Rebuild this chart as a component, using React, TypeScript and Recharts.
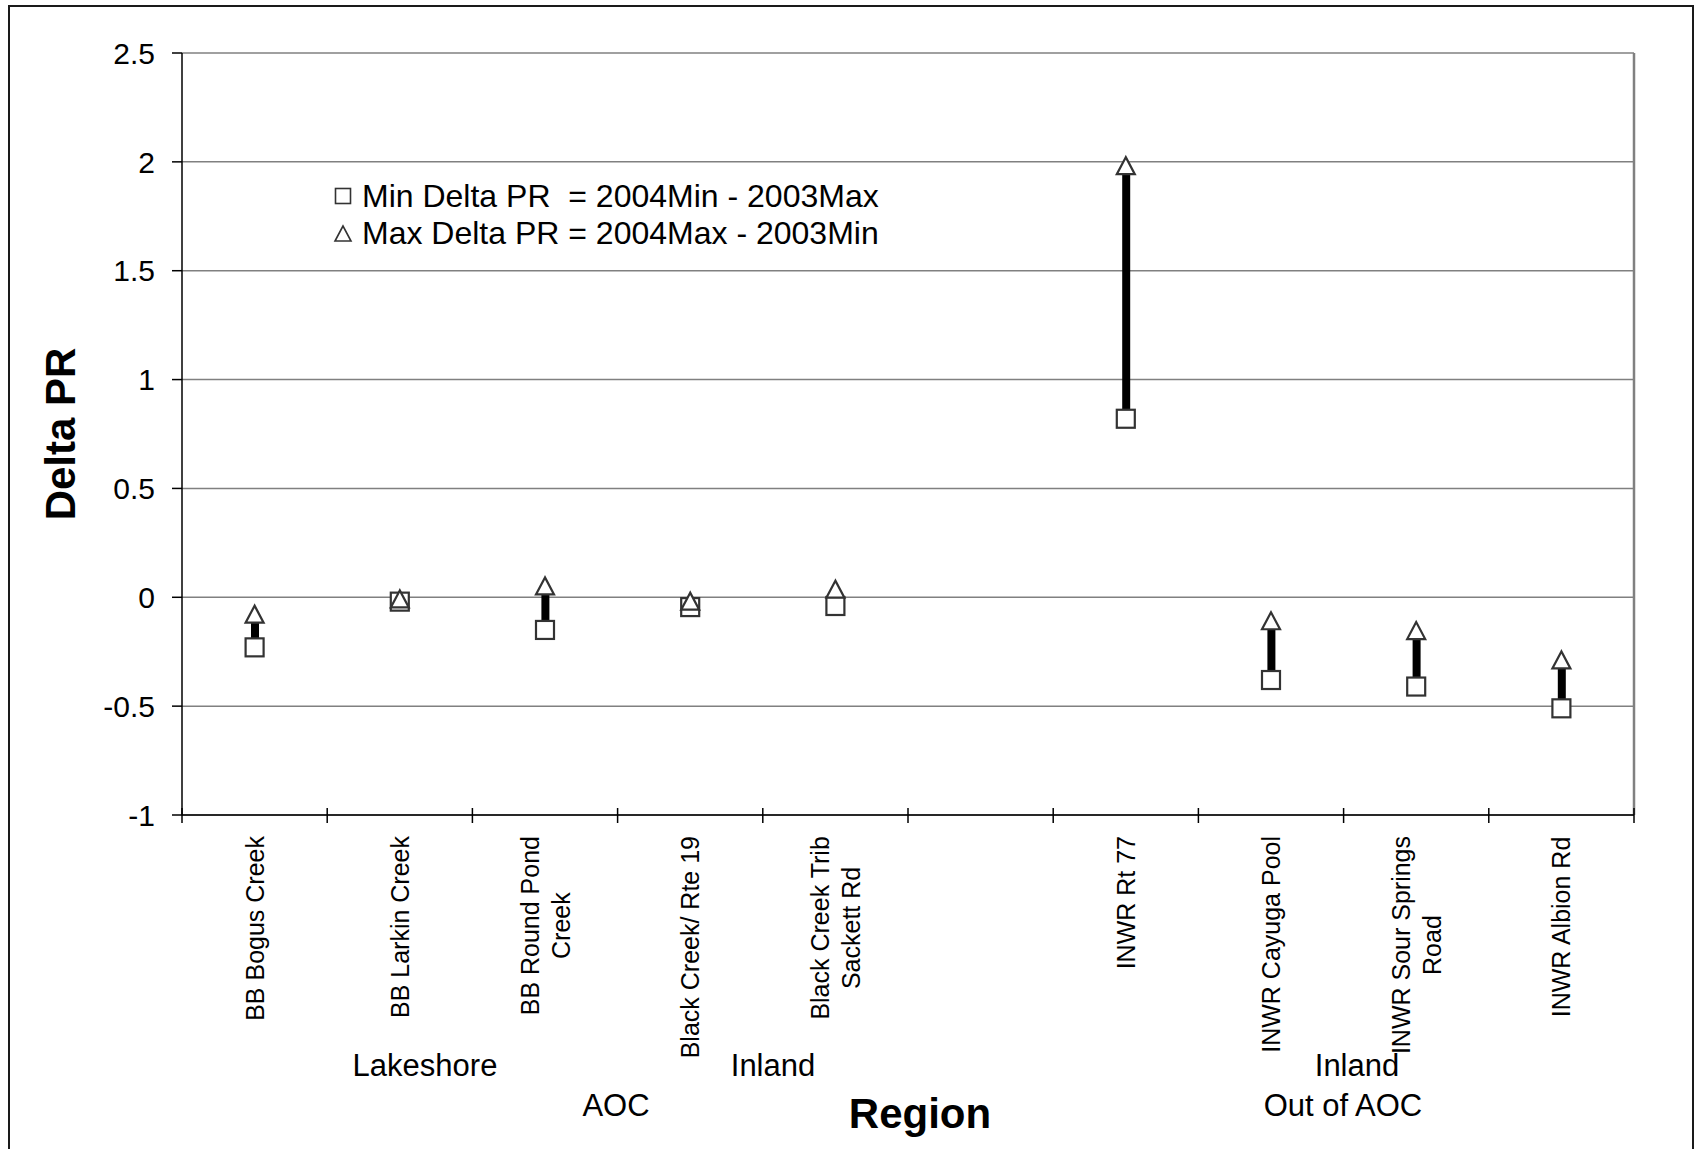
import { ComposedChart, Bar, Scatter, XAxis, YAxis, CartesianGrid, ReferenceLine } from "recharts";

// sampling sites along the x axis ("\n" = line break in the tick label)
const sites = [
  "BB Bogus Creek",
  "BB Larkin Creek",
  "BB Round Pond\nCreek",
  "Black Creek/ Rte 19",
  "Black Creek Trib\nSackett Rd",
  "",
  "INWR Rt 77",
  "INWR Cayuga Pool",
  "INWR Sour Springs\nRoad",
  "INWR Albion Rd",
];

// Min Delta PR = 2004Min - 2003Max
const minDeltaPR = [-0.23, -0.02, -0.15, -0.045, -0.04, null, 0.82, -0.38, -0.41, -0.51];
// Max Delta PR = 2004Max - 2003Min
const maxDeltaPR = [-0.08, -0.01, 0.05, -0.02, 0.035, null, 1.98, -0.11, -0.155, -0.29];

const yTicks = [-1, -0.5, 0, 0.5, 1, 1.5, 2, 2.5];

const legendItems = ["Min Delta PR  = 2004Min - 2003Max", "Max Delta PR = 2004Max - 2003Min"];

const groupLabels = [
  { text: "Lakeshore", x: 425, y: 1076 },
  { text: "Inland", x: 773, y: 1076 },
  { text: "Inland", x: 1357, y: 1076 },
  { text: "AOC", x: 616, y: 1116 },
  { text: "Out of AOC", x: 1343, y: 1116 },
];

const FONT = "'Liberation Sans', Arial, sans-serif";

const chartData = sites.map((site, i) => ({
  x: i + 0.5,
  site,
  min: minDeltaPR[i],
  max: maxDeltaPR[i],
  range: minDeltaPR[i] == null ? null : [minDeltaPR[i], maxDeltaPR[i]],
}));

const xTicks: number[] = [];
for (let i = 0; i <= sites.length; i++) {
  xTicks.push(i);
  if (i < sites.length) xTicks.push(i + 0.5);
}

let ctx: CanvasRenderingContext2D | null = null;
const measure = (s: string, font: string) => {
  if (!ctx) ctx = document.createElement("canvas").getContext("2d");
  if (!ctx) return s.length * 12;
  ctx.font = font;
  return ctx.measureText(s).width;
};

const XTick = (props: any) => {
  const { x, y, payload } = props;
  const v = payload.value;
  if (Number.isInteger(v)) {
    return <line x1={x} x2={x} y1={y - 7} y2={y + 8} stroke="#000" strokeWidth={1.5} />;
  }
  const label = sites[Math.floor(v)];
  if (!label) return null;
  const lines = label.split("\n");
  const maxW = Math.max(...lines.map((l) => measure(l, `25px ${FONT}`)));
  const cy = y + 21 + maxW / 2;
  return (
    <g transform={`translate(${x},${cy}) rotate(-90)`}>
      {lines.map((l, k) => (
        <text
          key={k}
          x={0}
          y={(k - (lines.length - 1) / 2) * 31}
          textAnchor="middle"
          dominantBaseline="central"
          fontSize={25}
          fontFamily={FONT}
          fill="#000"
        >
          {l}
        </text>
      ))}
    </g>
  );
};

const Square = (props: any) => {
  const { cx, cy } = props;
  if (!Number.isFinite(cx) || !Number.isFinite(cy)) return null;
  return <rect x={cx - 9} y={cy - 9} width={18} height={18} fill="#fff" stroke="#333" strokeWidth={2.2} />;
};

const Triangle = (props: any) => {
  const { cx, cy } = props;
  if (!Number.isFinite(cx) || !Number.isFinite(cy)) return null;
  return (
    <polygon
      points={`${cx},${cy - 9} ${cx - 9},${cy + 8} ${cx + 9},${cy + 8}`}
      fill="#fff"
      stroke="#333"
      strokeWidth={2.2}
      strokeLinejoin="miter"
    />
  );
};

const fmt = (v: number) => String(v);

export default function App() {
  return (
    <div style={{ position: "absolute", left: 0, top: 0, width: 1696, height: 1149, overflow: "hidden", background: "#fff" }}>
      <div
        style={{
          position: "absolute",
          left: 8,
          top: 5,
          width: 1686,
          height: 1200,
          border: "2px solid #1a1a1a",
          boxSizing: "border-box",
        }}
      />
      <div style={{ position: "absolute", left: 0, top: 0 }}>
        <ComposedChart
          width={1696}
          height={1149}
          data={chartData}
          margin={{ top: 53, right: 62, bottom: 34, left: 102 }}
        >
          <CartesianGrid vertical={false} stroke="#808080" strokeWidth={1.5} />
          <XAxis
            dataKey="x"
            type="number"
            domain={[0, 10]}
            ticks={xTicks}
            interval={0}
            height={300}
            tickSize={0}
            tickMargin={0}
            tickLine={false}
            tick={<XTick />}
            axisLine={{ stroke: "#000", strokeWidth: 1.5 }}
          />
          <YAxis
            type="number"
            domain={[-1, 2.5]}
            ticks={yTicks}
            interval={0}
            width={80}
            tickSize={10}
            tickMargin={17}
            tickFormatter={fmt}
            tickLine={{ stroke: "#000", strokeWidth: 1.5 }}
            axisLine={{ stroke: "#000", strokeWidth: 1.5 }}
            tick={{ fontSize: 30, fontFamily: FONT, fill: "#000" }}
          />
          <ReferenceLine x={10} stroke="#808080" strokeWidth={2.5} />
          <Bar dataKey="range" barSize={8} fill="#000" isAnimationActive={false} />
          <Scatter dataKey="min" shape={<Square />} isAnimationActive={false} />
          <Scatter dataKey="max" shape={<Triangle />} isAnimationActive={false} />

          <text
            transform="translate(60,434) rotate(-90)"
            textAnchor="middle"
            dominantBaseline="central"
            fontSize={42}
            fontWeight="bold"
            fontFamily={FONT}
            fill="#000"
          >
            Delta PR
          </text>
          <text x={920} y={1128} textAnchor="middle" fontSize={42} fontWeight="bold" fontFamily={FONT} fill="#000">
            Region
          </text>
          {groupLabels.map((g, i) => (
            <text key={i} x={g.x} y={g.y} textAnchor="middle" fontSize={31} fontFamily={FONT} fill="#000">
              {g.text}
            </text>
          ))}
          <g>
            <rect x={335.5} y={188.5} width={15} height={15} fill="#fff" stroke="#333" strokeWidth={1.6} />
            <polygon points="343,226 335,241 351,241" fill="#fff" stroke="#333" strokeWidth={1.6} />
            {legendItems.map((t, i) => (
              <text
                key={i}
                x={362}
                y={207 + i * 37}
                fontSize={32}
                fontFamily={FONT}
                fill="#000"
                style={{ whiteSpace: "pre" }}
              >
                {t}
              </text>
            ))}
          </g>
        </ComposedChart>
      </div>
    </div>
  );
}
